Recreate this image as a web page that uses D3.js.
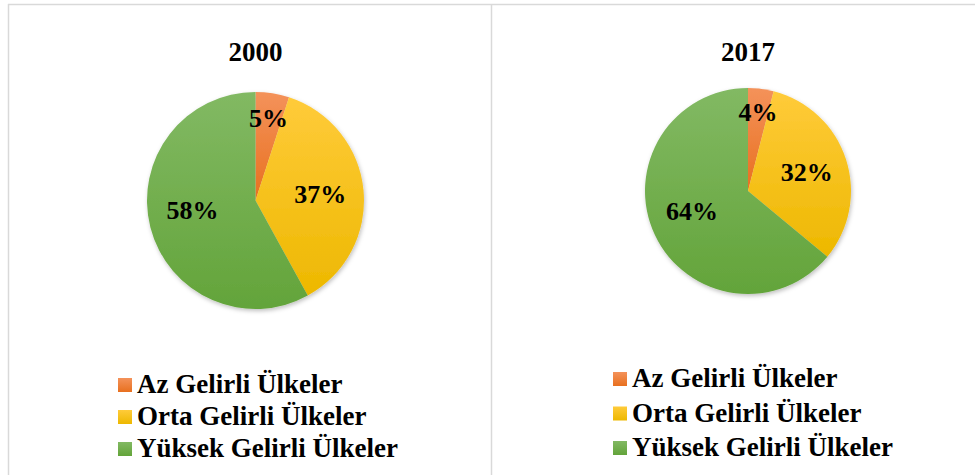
<!doctype html>
<html lang='en'>
<head>
  <meta charset='utf-8'>
  <title>Gelir grupları 2000 - 2017</title>
  <style>
    html, body { margin: 0; padding: 0; background: #fff; }
    text { font-family: 'Liberation Serif', 'Times New Roman', serif; font-weight: bold; fill: #000; }
  </style>
</head>
<body>
  <script src='https://d3js.org/d3.v7.min.js'></script>
  <script>
    const categories = ['Az Gelirli Ülkeler', 'Orta Gelirli Ülkeler', 'Yüksek Gelirli Ülkeler']
    const years = ['2000', '2017']
    const values2000 = [5, 37, 58]
    const values2017 = [4, 32, 64]

    const width = 975
    const height = 475

    const lightColors = ['#F4925A', '#FFCB3A', '#82B963']
    const darkColors = ['#E8701F', '#EDB800', '#63A43A']

    const svg = d3.select('body').append('svg')
      .attr('width', width)
      .attr('height', height)

    const defs = svg.append('defs')
    categories.forEach((c, i) => {
      const g = defs.append('linearGradient')
        .attr('id', 'grad' + i)
        .attr('x1', 0).attr('y1', 0).attr('x2', 0).attr('y2', 1)
      g.append('stop').attr('offset', '0%').attr('stop-color', lightColors[i])
      g.append('stop').attr('offset', '100%').attr('stop-color', darkColors[i])
    })
    const shadow = defs.append('filter').attr('id', 'shadow')
      .attr('x', '-10%').attr('y', '-10%').attr('width', '120%').attr('height', '120%')
    shadow.append('feDropShadow')
      .attr('dx', 1).attr('dy', 2).attr('stdDeviation', 2)
      .attr('flood-color', '#000').attr('flood-opacity', 0.25)

    // panel borders
    const border = svg.append('g').attr('stroke', '#d9d9d9').attr('stroke-width', 1.5).attr('fill', 'none')
    border.append('line').attr('x1', 8).attr('x2', width).attr('y1', 4.5).attr('y2', 4.5)
    border.append('line').attr('x1', 8.5).attr('x2', 8.5).attr('y1', 4).attr('y2', height)
    border.append('line').attr('x1', 491.5).attr('x2', 491.5).attr('y1', 4).attr('y2', height)

    const panels = [
      { year: years[0], values: values2000, cx: 255.5, cy: 200.5, r: 108.5, titleY: 61, legendX: 118, legendY: 393, legendStep: 32 },
      { year: years[1], values: values2017, cx: 748, cy: 191, r: 103, titleY: 61, legendX: 613, legendY: 387, legendStep: 34.5 }
    ]

    const pie = d3.pie().sort(null).value(d => d.value)

    panels.forEach(p => {
      const data = categories.map((c, i) => ({ name: c, value: p.values[i], index: i }))
      const arcs = pie(data)
      const arc = d3.arc().innerRadius(0).outerRadius(p.r)

      const g = svg.append('g').attr('transform', `translate(${p.cx},${p.cy})`)

      svg.append('text')
        .attr('x', p.cx)
        .attr('y', p.titleY)
        .attr('text-anchor', 'middle')
        .style('font-size', '27px')
        .text(p.year)

      g.append('g').attr('filter', 'url(#shadow)')
        .selectAll('path')
        .data(arcs)
        .join('path')
        .attr('d', arc)
        .attr('fill', d => `url(#grad${d.data.index})`)

      g.selectAll('text.label')
        .data(arcs)
        .join('text')
        .attr('class', 'label')
        .attr('transform', d => {
          const k = d.data.value < 10 ? 0.77 : 0.6
          const la = d3.arc().innerRadius(p.r * k).outerRadius(p.r * k)
          const [x, y] = la.centroid(d)
          return `translate(${x},${y})`
        })
        .attr('text-anchor', 'middle')
        .attr('dy', d => d.data.value > 50 ? '0.1em' : '0.35em')
        .style('font-size', '26px')
        .text(d => d.data.value + '%')

      const legend = svg.append('g')
        .selectAll('g')
        .data(categories)
        .join('g')
        .attr('transform', (d, i) => `translate(${p.legendX},${p.legendY + i * p.legendStep})`)

      legend.append('rect')
        .attr('x', 0).attr('y', -15)
        .attr('width', 14).attr('height', 14)
        .attr('fill', (d, i) => `url(#grad${i})`)

      legend.append('text')
        .attr('x', 19)
        .attr('y', 0)
        .style('font-size', '27px')
        .text(d => d)
    })
  </script>
</body>
</html>
